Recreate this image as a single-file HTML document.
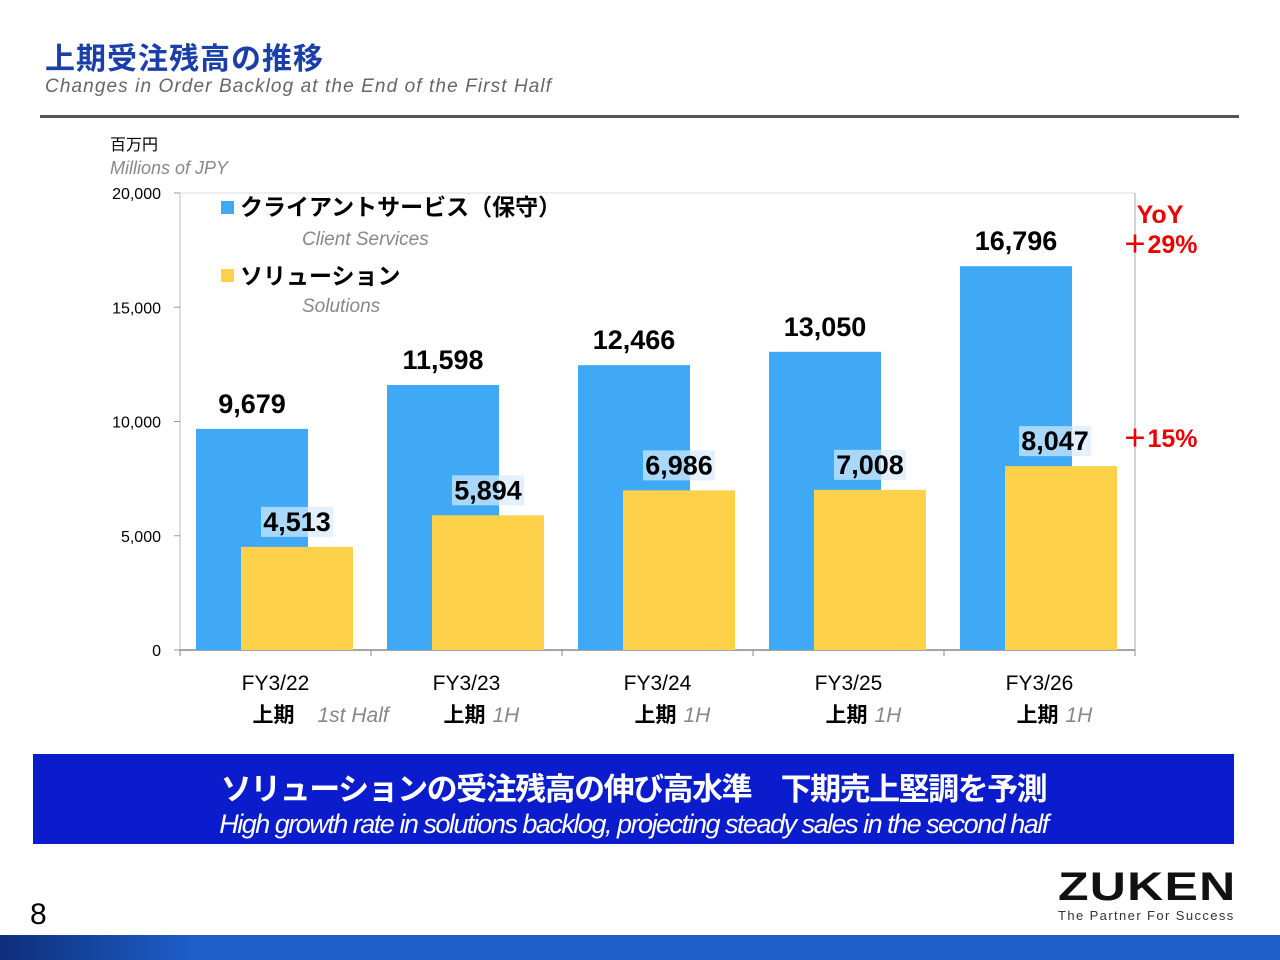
<!DOCTYPE html>
<html><head><meta charset="utf-8">
<style>
body{margin:0;width:1280px;height:960px;position:relative;background:#fff;font-family:"Liberation Sans","Noto Sans CJK JP",sans-serif;overflow:hidden}
.abs{position:absolute}
</style></head>
<body>
<div class="abs" style="left:45px;top:34px;font-size:30px;font-weight:bold;color:#1a3fa8;letter-spacing:1px">上期受注残高の推移</div>
<div class="abs" style="left:45px;top:76px;font-size:19px;font-style:italic;color:#666;letter-spacing:1.1px">Changes in Order Backlog at the End of the First Half</div>
<div class="abs" style="left:40px;top:115px;width:1199px;height:3px;background:#555"></div>

<svg class="abs" style="left:0;top:0" width="1280" height="760">
<g id="g"></g>
</svg>

<div class="abs" style="left:33px;top:754px;width:1201px;height:90px;background:#0a1ccc;color:#fff;text-align:center">
 <div style="font-size:31px;font-weight:bold;margin-top:10px;letter-spacing:-1.5px">ソリューションの受注残高の伸び高水準　下期売上堅調を予測</div>
 <div style="font-size:27px;font-style:italic;margin-top:0px;letter-spacing:-1.5px">High growth rate in solutions backlog, projecting steady sales in the second half</div>
</div>

<div class="abs" style="left:30px;top:898px;font-size:30px;color:#000">8</div>
<div class="abs" style="left:1058px;top:866px;font-size:40px;font-weight:bold;color:#111;letter-spacing:1px;transform:scaleX(1.25);transform-origin:left;line-height:42px">ZUKEN</div>
<div class="abs" style="left:1058px;top:908px;font-size:13px;color:#333;letter-spacing:1.4px">The Partner For Success</div>
<div class="abs" style="left:0;top:935px;width:1280px;height:25px;background:linear-gradient(90deg,#0d2f7a 0,#1d5ec8 15%,#1d5ec8 100%)"></div>

<script>
const categories=["FY3/22","FY3/23","FY3/24","FY3/25","FY3/26"];
const subLabels=["1st Half","1H","1H","1H","1H"];
const clientServices=[9679,11598,12466,13050,16796];
const solutions=[4513,5894,6986,7008,8047];
const yTicks=[0,5000,10000,15000,20000];
const NS="http://www.w3.org/2000/svg";
const g=document.getElementById('g');
const X0=180,X1=1135,Y0=650,Y1=193,MAX=20000;
const bw=(X1-X0)/categories.length;
const y=v=>Y0-(v/MAX)*(Y0-Y1);
const x=i=>X0+i*bw;
function mk(t,a,txt){const e=document.createElementNS(NS,t);for(const k in a)e.setAttribute(k,a[k]);if(txt!==undefined)e.textContent=txt;g.appendChild(e);return e;}
let e;
e=mk('line',{x1:X0,y1:Y1,x2:X1,y2:Y1,stroke:'#ddd'});

e=mk('line',{x1:X1,y1:Y1,x2:X1,y2:Y0,stroke:'#aaa'});

e=mk('line',{x1:X0,y1:Y1,x2:X0,y2:Y0,stroke:'#bbb'});

yTicks.forEach(t=>{
 e=mk('line',{x1:X0-6,y1:y(t),x2:X0,y2:y(t),stroke:'#999'});
 
 e=mk('text',{x:161,y:y(t)+6,'text-anchor':'end','font-size':16,fill:'#000'},t.toLocaleString('en-US'));
 
});
e=mk('line',{x1:X0,y1:Y0,x2:X1,y2:Y0,stroke:'#888','stroke-width':1.5});

for(let i=0;i<=categories.length;i++){
 e=mk('line',{x1:x(i),y1:Y0,x2:x(i),y2:Y0+6,stroke:'#888'});
 
}
categories.forEach((c,i)=>{
 const bx=x(i)+16,sx=x(i)+61,w=112;
 e=mk('rect',{x:bx,y:y(clientServices[i]),width:w,height:Y0-y(clientServices[i]),fill:'#3fa9f5'});
 
 e=mk('rect',{x:sx,y:y(solutions[i]),width:w,height:Y0-y(solutions[i]),fill:'#fdd24a'});
 
 e=mk('text',{x:bx+w/2,y:y(clientServices[i])-16,'text-anchor':'middle','font-size':27,'font-weight':'bold',fill:'#000'},clientServices[i].toLocaleString('en-US'));
 
 const ly=y(solutions[i])-16;
 const lx=i===4?sx+w/2-6:sx+w/2;
 e=mk('rect',{x:lx-36,y:ly-24,width:72,height:30,fill:'#d6ebfc',opacity:0.7});
 
 e=mk('text',{x:lx,y:ly,'text-anchor':'middle','font-size':27,'font-weight':'bold',fill:'#000'},solutions[i].toLocaleString('en-US'));
 
 const cx=x(i)+bw/2;
 e=mk('text',{x:cx,y:690,'text-anchor':'middle','font-size':21,fill:'#000'},c);
 
 e=mk('text',{x:cx-2,y:722,'text-anchor':'middle','font-size':21,'font-weight':'bold',fill:'#000'},'上期');
 
 e=mk('text',{x:cx+(i===0?42:26),y:722,'font-size':21,'font-style':'italic',fill:'#888'},subLabels[i]);
 
});
const add=(tag,a,t,n)=>{e=mk(tag,a,t);};
add('text',{x:110,y:150,'font-size':16,fill:'#000'},'百万円','y-unit-jp');
add('text',{x:110,y:174,'font-size':18,'font-style':'italic',fill:'#888'},'Millions of JPY','y-unit-en');
add('rect',{x:221,y:201,width:13,height:13,fill:'#3fa9f5'},undefined,'legend-swatch-client');
add('text',{x:240,y:215,'font-size':23,'font-weight':'bold',fill:'#000'},'クライアントサービス（保守）','legend-client-jp');
add('text',{x:302,y:245,'font-size':19,'font-style':'italic',fill:'#888'},'Client Services','legend-client-en');
add('rect',{x:221,y:269,width:13,height:13,fill:'#fdd24a'},undefined,'legend-swatch-solutions');
add('text',{x:240,y:284,'font-size':23,'font-weight':'bold',fill:'#000'},'ソリューション','legend-solutions-jp');
add('text',{x:302,y:312,'font-size':19,'font-style':'italic',fill:'#888'},'Solutions','legend-solutions-en');
add('text',{x:1160,y:223,'text-anchor':'middle','font-size':25,'font-weight':'bold',fill:'#e00'},'YoY','yoy-label');
add('text',{x:1160,y:253,'text-anchor':'middle','font-size':25,'font-weight':'bold',fill:'#e00'},'＋29%','yoy-client');
add('text',{x:1160,y:447,'text-anchor':'middle','font-size':25,'font-weight':'bold',fill:'#e00'},'＋15%','yoy-solutions');
</script>
</body></html>
